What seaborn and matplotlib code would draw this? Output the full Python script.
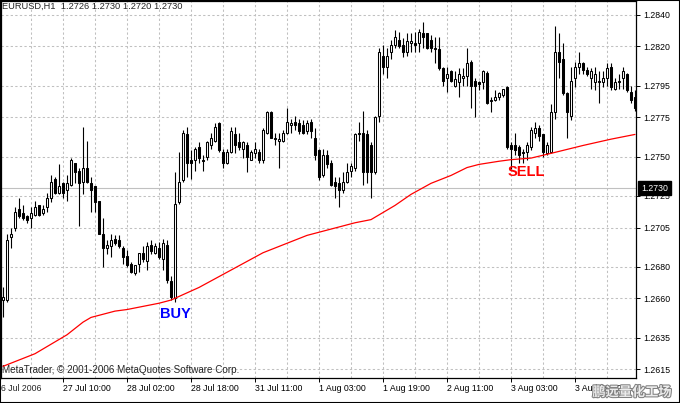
import matplotlib
matplotlib.use("Agg")
import matplotlib.pyplot as plt
import matplotlib.patheffects as pe
from matplotlib.patches import Rectangle
from matplotlib.transforms import blended_transform_factory, offset_copy
import numpy as np
import pandas as pd
import seaborn as sns

# EURUSD H1 candles (bar 0 = leftmost)
opens = [1.2659, 1.2659, 1.2699, 1.2705, 1.2717, 1.2714, 1.2712, 1.2711, 1.2713, 1.2719,
         1.2714, 1.2718, 1.2724, 1.2736, 1.2727, 1.2733, 1.2729, 1.2732, 1.2746, 1.2741,
         1.2734, 1.2743, 1.2733, 1.2731, 1.2722, 1.2701, 1.2692, 1.2693, 1.2698, 1.2697,
         1.2692, 1.2687, 1.2682, 1.2676, 1.2682, 1.2689, 1.2684, 1.2694, 1.2689, 1.2692,
         1.2685, 1.2694, 1.2671, 1.2660, 1.2721, 1.2735, 1.2764, 1.2748, 1.2748, 1.2756,
         1.2748, 1.2750, 1.2757, 1.2760, 1.2771, 1.2753, 1.2746, 1.2753, 1.2764, 1.2759,
         1.2755, 1.2757, 1.2748, 1.2752, 1.2753, 1.2748, 1.2765, 1.2778, 1.2761, 1.2760,
         1.2760, 1.2765, 1.2770, 1.2772, 1.2771, 1.2770, 1.2766, 1.2772, 1.2762, 1.2754,
         1.2738, 1.2751, 1.2746, 1.2734, 1.2733, 1.2729, 1.2734, 1.2741, 1.2743, 1.2765,
         1.2765, 1.2764, 1.2757, 1.2740, 1.2776, 1.2814, 1.2807, 1.2816, 1.2821, 1.2824,
         1.2821, 1.2816, 1.2822, 1.2822, 1.2822, 1.2828, 1.2828, 1.2824, 1.2818, 1.2818,
         1.2806, 1.2800, 1.2804, 1.2795, 1.2797, 1.2800, 1.2801, 1.2810, 1.2798, 1.2797,
         1.2797, 1.2803, 1.2785, 1.2786, 1.2788, 1.2789, 1.2794, 1.2757, 1.2757, 1.2756,
         1.2753, 1.2753, 1.2756, 1.2765, 1.2768, 1.2764, 1.2752, 1.2753, 1.2778, 1.2816,
         1.2812, 1.2790, 1.2776, 1.2800, 1.2807, 1.2809, 1.2805, 1.2800, 1.2797, 1.2797,
         1.2797, 1.2800, 1.2807, 1.2793, 1.2797, 1.2800, 1.2802, 1.2791, 1.2788]
highs = [1.2667, 1.2701, 1.2705, 1.2718, 1.2724, 1.2719, 1.2713, 1.2718, 1.2722, 1.2719,
         1.2719, 1.2727, 1.2738, 1.2737, 1.2745, 1.2734, 1.2738, 1.2749, 1.2746, 1.2743,
         1.2769, 1.2760, 1.2737, 1.2731, 1.2722, 1.2711, 1.2697, 1.2701, 1.2700, 1.2700,
         1.2693, 1.2691, 1.2683, 1.2681, 1.2689, 1.2693, 1.2696, 1.2697, 1.2695, 1.2696,
         1.2698, 1.2697, 1.2674, 1.2740, 1.2753, 1.2767, 1.2769, 1.2754, 1.2756, 1.2759,
         1.2751, 1.2760, 1.2765, 1.2771, 1.2772, 1.2755, 1.2755, 1.2769, 1.2769, 1.2765,
         1.2760, 1.2759, 1.2754, 1.2759, 1.2755, 1.2768, 1.2779, 1.2779, 1.2765, 1.2765,
         1.2767, 1.2781, 1.2774, 1.2776, 1.2774, 1.2773, 1.2773, 1.2774, 1.2768, 1.2755,
         1.2755, 1.2754, 1.2748, 1.2737, 1.2737, 1.2740, 1.2746, 1.2746, 1.2765, 1.2772,
         1.2779, 1.2767, 1.2759, 1.2776, 1.2819, 1.2821, 1.2819, 1.2824, 1.2830, 1.2829,
         1.2825, 1.2828, 1.2828, 1.2829, 1.2831, 1.2835, 1.2828, 1.2827, 1.2826, 1.2826,
         1.2807, 1.2807, 1.2805, 1.2804, 1.2806, 1.2806, 1.2819, 1.2811, 1.2800, 1.2798,
         1.2805, 1.2804, 1.2788, 1.2792, 1.2791, 1.2793, 1.2795, 1.2759, 1.2765, 1.2757,
         1.2755, 1.2759, 1.2769, 1.2772, 1.2770, 1.2764, 1.2759, 1.2783, 1.2833, 1.2828,
         1.2822, 1.2791, 1.2807, 1.2810, 1.2816, 1.2810, 1.2807, 1.2806, 1.2807, 1.2804,
         1.2804, 1.2809, 1.2809, 1.2800, 1.2802, 1.2807, 1.2803, 1.2795, 1.2792]
lows = [1.2648, 1.2658, 1.2692, 1.2703, 1.2711, 1.2710, 1.2708, 1.2705, 1.2712, 1.2712,
        1.2713, 1.2715, 1.2721, 1.2726, 1.2726, 1.2724, 1.2722, 1.2731, 1.2733, 1.2706,
        1.2726, 1.2733, 1.2715, 1.2715, 1.2701, 1.2680, 1.2688, 1.2686, 1.2694, 1.2692,
        1.2682, 1.2680, 1.2676, 1.2675, 1.2677, 1.2683, 1.2678, 1.2688, 1.2688, 1.2685,
        1.2678, 1.2670, 1.2659, 1.2658, 1.2720, 1.2734, 1.2737, 1.2736, 1.2741, 1.2746,
        1.2741, 1.2748, 1.2755, 1.2759, 1.2753, 1.2743, 1.2745, 1.2752, 1.2752, 1.2754,
        1.2749, 1.2740, 1.2748, 1.2749, 1.2746, 1.2746, 1.2764, 1.2762, 1.2757, 1.2743,
        1.2759, 1.2764, 1.2765, 1.2767, 1.2764, 1.2764, 1.2764, 1.2762, 1.2748, 1.2735,
        1.2737, 1.2743, 1.2731, 1.2724, 1.2718, 1.2727, 1.2733, 1.2737, 1.2741, 1.2760,
        1.2732, 1.2733, 1.2724, 1.2739, 1.2772, 1.2802, 1.2800, 1.2812, 1.2819, 1.2819,
        1.2813, 1.2814, 1.2816, 1.2816, 1.2816, 1.2819, 1.2818, 1.2816, 1.2809, 1.2805,
        1.2795, 1.2791, 1.2797, 1.2794, 1.2788, 1.2795, 1.2795, 1.2781, 1.2775, 1.2792,
        1.2793, 1.2783, 1.2778, 1.2785, 1.2786, 1.2788, 1.2755, 1.2742, 1.2751, 1.2746,
        1.2746, 1.2748, 1.2754, 1.2762, 1.2760, 1.2750, 1.2751, 1.2752, 1.2774, 1.2800,
        1.2789, 1.2762, 1.2773, 1.2794, 1.2802, 1.2802, 1.2801, 1.2793, 1.2792, 1.2784,
        1.2794, 1.2795, 1.2792, 1.2792, 1.2793, 1.2793, 1.2791, 1.2784, 1.2779]
closes = [1.2661, 1.2697, 1.2701, 1.2715, 1.2712, 1.2711, 1.2710, 1.2714, 1.2718, 1.2713,
          1.2717, 1.2724, 1.2734, 1.2727, 1.2731, 1.2727, 1.2733, 1.2748, 1.2740, 1.2733,
          1.2743, 1.2734, 1.2729, 1.2721, 1.2701, 1.2692, 1.2694, 1.2697, 1.2695, 1.2693,
          1.2686, 1.2681, 1.2677, 1.2681, 1.2689, 1.2685, 1.2693, 1.2690, 1.2693, 1.2686,
          1.2695, 1.2672, 1.2661, 1.2720, 1.2734, 1.2765, 1.2746, 1.2746, 1.2755, 1.2749,
          1.2747, 1.2759, 1.2762, 1.2769, 1.2754, 1.2746, 1.2753, 1.2766, 1.2757, 1.2756,
          1.2759, 1.2750, 1.2753, 1.2755, 1.2748, 1.2767, 1.2778, 1.2762, 1.2762, 1.2761,
          1.2765, 1.2772, 1.2771, 1.2770, 1.2766, 1.2765, 1.2771, 1.2766, 1.2751, 1.2737,
          1.2751, 1.2745, 1.2732, 1.2731, 1.2729, 1.2734, 1.2740, 1.2744, 1.2764, 1.2764,
          1.2740, 1.2740, 1.2740, 1.2775, 1.2816, 1.2807, 1.2814, 1.2821, 1.2826, 1.2820,
          1.2816, 1.2823, 1.2823, 1.2821, 1.2829, 1.2826, 1.2819, 1.2819, 1.2819, 1.2806,
          1.2798, 1.2802, 1.2798, 1.2799, 1.2802, 1.2801, 1.2809, 1.2795, 1.2795, 1.2796,
          1.2804, 1.2784, 1.2786, 1.2788, 1.2790, 1.2793, 1.2756, 1.2755, 1.2754, 1.2751,
          1.2752, 1.2757, 1.2767, 1.2768, 1.2763, 1.2753, 1.2757, 1.2778, 1.2816, 1.2810,
          1.2790, 1.2778, 1.2798, 1.2807, 1.2809, 1.2805, 1.2802, 1.2804, 1.2802, 1.2798,
          1.2800, 1.2806, 1.2794, 1.2797, 1.2798, 1.2804, 1.2792, 1.2786, 1.2781]

# moving average (red line), sampled at these bars
ma_bars = [0, 8, 16, 20, 22, 25, 28, 31, 39, 42, 49, 57, 65, 76, 82, 88, 92, 94, 98,
           102, 107, 112, 116, 119, 124, 127, 132, 137, 145, 152, 158]
ma_vals = [1.2617, 1.2625, 1.2637, 1.2645, 1.2648, 1.2650, 1.2652, 1.2653, 1.2657,
           1.2659, 1.2667, 1.2678, 1.2689, 1.2700, 1.2704, 1.2708, 1.2710, 1.2713,
           1.2719, 1.2726, 1.2733, 1.2738, 1.2743, 1.2745, 1.2747, 1.2748, 1.2749,
           1.2752, 1.2757, 1.2761, 1.2764]

time_bars = [-1, 15, 31, 47, 63, 79, 95, 111, 127, 143]
time_labels = ["26 Jul 2006", "27 Jul 10:00", "28 Jul 02:00", "28 Jul 18:00",
               "31 Jul 11:00", "1 Aug 03:00", "1 Aug 19:00", "2 Aug 11:00",
               "3 Aug 03:00", "3 Aug 19:00"]
price_ticks = [1.2840, 1.2820, 1.2795, 1.2775, 1.2750, 1.2725, 1.2705, 1.2680,
               1.2660, 1.2635, 1.2615]
bid = 1.2730
header = "EURUSD,H1  1.2726 1.2730 1.2720 1.2730"

df = pd.DataFrame({"open": opens, "high": highs, "low": lows, "close": closes})
df["bar"] = np.arange(len(df))
ma = pd.DataFrame({"bar": ma_bars, "ma": ma_vals})

sns.set_style("white")
plt.rcParams["font.family"] = ["Liberation Sans", "DejaVu Sans"]

W, H = 680, 403
fig = plt.figure(figsize=(W / 100, H / 100), dpi=100)
fig.patch.set_facecolor("white")
ax = fig.add_axes([0.5 / W, (H - 378) / H, 635.5 / W, 377.5 / H])
ax.set_facecolor("white")

grid_kw = dict(color="#c0c0c0", lw=0.75, linestyles=(0, (2.2, 2.2)), zorder=0.5)
ax.vlines(np.arange(7, len(df), 8), 0, 1, transform=ax.get_xaxis_transform(), **grid_kw)
ax.hlines(price_ticks, 0, 1, transform=ax.get_yaxis_transform(), **grid_kw)
ax.axhline(bid, color="#c0c0c0", lw=0.8, zorder=0.8)

# candles
ax.vlines(df["bar"], df["low"], df["high"], color="black", lw=0.8, zorder=2)
body_lo = df[["open", "close"]].min(axis=1)
body_h = (df["close"] - df["open"]).abs()
fill = np.where(df["close"] > df["open"], "white", "black")
ax.bar(df["bar"], body_h, bottom=body_lo, width=0.5, color=fill,
       edgecolor="black", linewidth=0.75, zorder=3)

sns.lineplot(data=ma, x="bar", y="ma", color="red", lw=0.9, ax=ax, zorder=4)

ax.set_xlim(-0.625, 158.25)
ax.set_ylim(1.26096, 1.28489)
ax.set_xlabel("")
ax.set_ylabel("")

ax.set_xticks(time_bars[1:])
ax.set_xticklabels(time_labels[1:], ha="left")
ax.yaxis.tick_right()
ax.set_yticks(price_ticks)
ax.set_yticklabels([f"{v:.4f}" for v in price_ticks])
ax.tick_params(axis="x", bottom=True, direction="out", length=3, width=0.7,
               pad=1, labelsize=6.3, colors="black")
ax.tick_params(axis="y", right=True, left=False, direction="out", length=3,
               width=0.7, pad=2.5, labelsize=6.3, colors="black")
for s in ax.spines.values():
    s.set_color("black")
    s.set_linewidth(0.9)

lbl_tr = offset_copy(blended_transform_factory(ax.transData, ax.transAxes),
                     fig=fig, x=-3, y=-5.6, units="dots")
ax.text(time_bars[0], 0, time_labels[0], transform=lbl_tr, ha="left", va="top",
        fontsize=6.3, clip_on=False)

ax.text(0.003, 0.984, header, transform=ax.transAxes, fontsize=6.7,
        ha="left", va="center")
ax.text(0.002, 0.022, "MetaTrader, \u00a9 2001-2006 MetaQuotes Software Corp.",
        transform=ax.transAxes, fontsize=7.1, ha="left", va="center")

ax.text(43.2, 1.2650, "BUY", color="#0000ff", fontsize=10.5, fontweight="heavy",
        ha="center", va="center", zorder=5)
ax.text(130.9, 1.2740, "SELL", color="#ff0000", fontsize=10.5, fontweight="heavy",
        ha="center", va="center", zorder=5)

bid_tr = offset_copy(blended_transform_factory(ax.transAxes, ax.transData),
                     fig=fig, x=5, units="dots")
ax.text(1.0, bid, f"{bid:.4f}", transform=bid_tr, color="white", fontsize=6.3,
        ha="left", va="center", clip_on=False, zorder=6,
        bbox=dict(boxstyle="square,pad=0.3", facecolor="black", edgecolor="black"))

fig.text(0.988, 0.027, "鹏远量化工场", fontsize=9.5, ha="right", va="center",
         color="#ececec", family=["Noto Sans CJK SC", "DejaVu Sans"], fontweight="bold",
         path_effects=[pe.withStroke(linewidth=1.5, foreground="#808080")])

fig.add_artist(Rectangle((0, 0), 1, 1, transform=fig.transFigure, fill=False,
                         edgecolor="black", lw=1.5))

fig.savefig("out.png", dpi=100, facecolor="white")
